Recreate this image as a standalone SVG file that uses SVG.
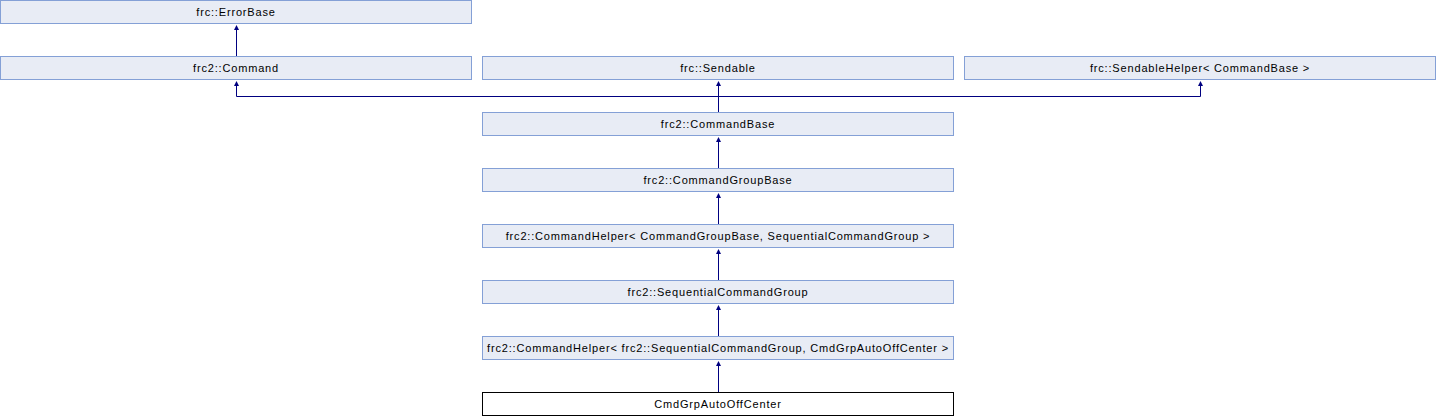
<svg xmlns="http://www.w3.org/2000/svg" width="1436" height="416" viewBox="0 0 1436 416">
<defs>
<style>
.n rect{fill:#e8ecf5;stroke:#84a0d6;stroke-width:1}
.n.cur rect{fill:#ffffff;stroke:#000000}
.n text{font-family:"Liberation Sans",Arial,sans-serif;font-size:11px;letter-spacing:0.83px;fill:#000000;text-anchor:middle}
.e{fill:none;stroke:#000080;stroke-width:1}
</style>
<marker id="ah" viewBox="0 0 10 10" refX="0" refY="5" markerWidth="6" markerHeight="5" markerUnits="userSpaceOnUse" orient="auto">
<path d="M0,0 L10,5 L0,10 Z" fill="#000080"/>
</marker>
</defs>
<rect width="1436" height="416" fill="#ffffff"/>
<g id="connectors">
<path class="e" d="M236.5,56 V30" marker-end="url(#ah)"/>
<path class="e" d="M718.5,112 V96.5 H236.5 V86" marker-end="url(#ah)"/>
<path class="e" d="M718.5,112 V86" marker-end="url(#ah)"/>
<path class="e" d="M718.5,96.5 H1200.5 V86" marker-end="url(#ah)"/>
<path class="e" d="M718.5,168 V142" marker-end="url(#ah)"/>
<path class="e" d="M718.5,224 V198" marker-end="url(#ah)"/>
<path class="e" d="M718.5,280 V254" marker-end="url(#ah)"/>
<path class="e" d="M718.5,336 V310" marker-end="url(#ah)"/>
<path class="e" d="M718.5,392 V366" marker-end="url(#ah)"/>
</g>
<g id="n_errorbase" class="n"><rect x="0.5" y="0.5" width="471" height="23"/><text x="236" y="16">frc::ErrorBase</text></g>
<g id="n_command" class="n"><rect x="0.5" y="56.5" width="471" height="23"/><text x="236" y="72">frc2::Command</text></g>
<g id="n_sendable" class="n"><rect x="482.5" y="56.5" width="471" height="23"/><text x="718" y="72">frc::Sendable</text></g>
<g id="n_sendablehelper" class="n"><rect x="964.5" y="56.5" width="471" height="23"/><text x="1200" y="72">frc::SendableHelper&lt; CommandBase &gt;</text></g>
<g id="n_commandbase" class="n"><rect x="482.5" y="112.5" width="471" height="23"/><text x="718" y="128">frc2::CommandBase</text></g>
<g id="n_commandgroupbase" class="n"><rect x="482.5" y="168.5" width="471" height="23"/><text x="718" y="184">frc2::CommandGroupBase</text></g>
<g id="n_commandhelper1" class="n"><rect x="482.5" y="224.5" width="471" height="23"/><text x="718" y="240">frc2::CommandHelper&lt; CommandGroupBase, SequentialCommandGroup &gt;</text></g>
<g id="n_sequential" class="n"><rect x="482.5" y="280.5" width="471" height="23"/><text x="718" y="296">frc2::SequentialCommandGroup</text></g>
<g id="n_commandhelper2" class="n"><rect x="482.5" y="336.5" width="471" height="23"/><text x="718" y="352">frc2::CommandHelper&lt; frc2::SequentialCommandGroup, CmdGrpAutoOffCenter &gt;</text></g>
<g id="n_cmdgrp" class="n cur"><rect x="482.5" y="392.5" width="471" height="23"/><text x="718" y="408">CmdGrpAutoOffCenter</text></g>
</svg>
